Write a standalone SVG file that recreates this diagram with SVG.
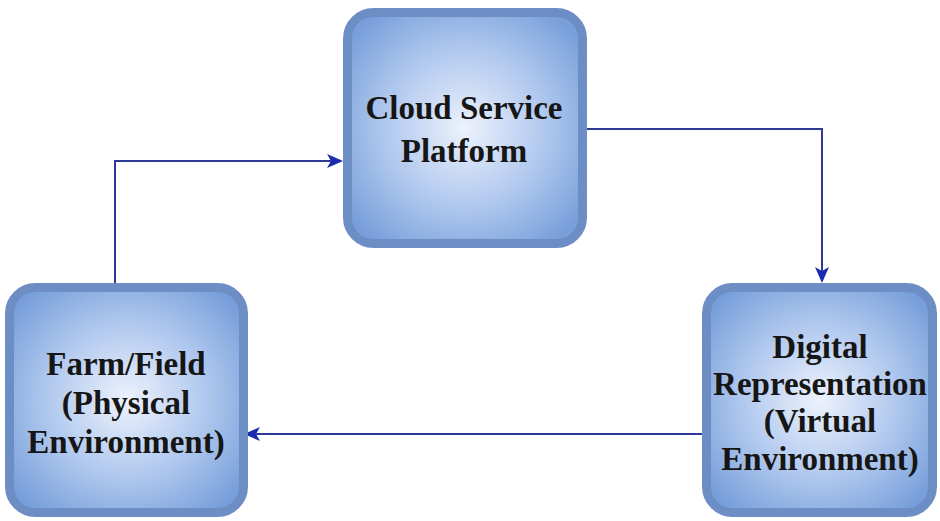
<svg xmlns="http://www.w3.org/2000/svg" width="940" height="521" viewBox="0 0 940 521">
<style>
.node rect{fill:url(#g);stroke:#6d8dc5;stroke-width:9}
.node text{font-family:"Liberation Serif","Times New Roman",serif;font-weight:bold;font-size:33px;fill:#161616;text-anchor:middle}
.conn{fill:none;stroke:#2e3a96;stroke-width:2;marker-end:url(#arr)}
</style>
<defs>
<radialGradient id="g" cx="0.5" cy="0.5" r="0.62">
<stop offset="0" stop-color="#edf2fc"/>
<stop offset="0.55" stop-color="#b0c8ee"/>
<stop offset="1" stop-color="#789fda"/>
</radialGradient>
<marker id="arr" markerUnits="userSpaceOnUse" markerWidth="18" markerHeight="16" refX="14" refY="7" orient="auto">
<path d="M0,0 L16,7 L0,14 L4,7 Z" fill="#1a2bb0"/>
</marker>
</defs>
<rect width="940" height="521" fill="#ffffff"/>
<g id="connectors">
<path class="conn" d="M587,129 H822 V281"/>
<path class="conn" d="M115,283 V161 H341"/>
<path class="conn" d="M702,434 H246"/>
</g>
<g id="cloud" class="node">
<rect x="347.5" y="12.5" width="235" height="231" rx="26"/>
<text x="464" y="119">Cloud Service</text>
<text x="464" y="162">Platform</text>
</g>
<g id="farm" class="node">
<rect x="9.5" y="287.5" width="234" height="225" rx="26"/>
<text x="126" y="375">Farm/Field</text>
<text x="126" y="414">(Physical</text>
<text x="126" y="453">Environment)</text>
</g>
<g id="digital" class="node">
<rect x="706.5" y="287.5" width="226" height="225" rx="26"/>
<text x="820" y="358">Digital</text>
<text x="820" y="395">Representation</text>
<text x="820" y="432">(Virtual</text>
<text x="820" y="470">Environment)</text>
</g>
</svg>
